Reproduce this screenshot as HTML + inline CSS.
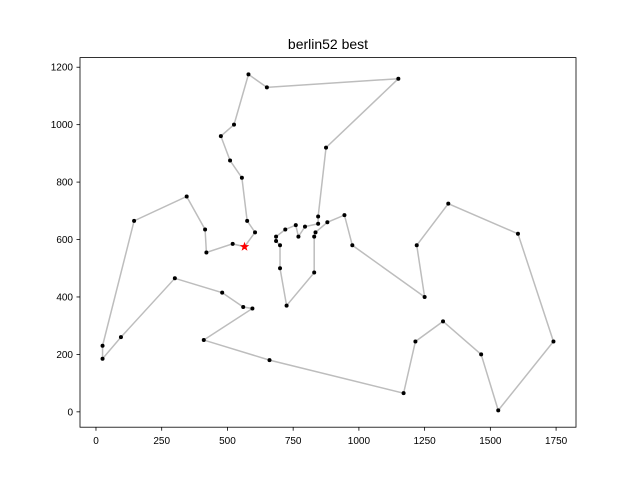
<!DOCTYPE html>
<html><head><meta charset="utf-8"><style>
body{margin:0;background:#fff;}
svg{font-family:"Liberation Sans","DejaVu Sans",sans-serif;}
</style></head><body>
<svg id="chart" width="640" height="480" viewBox="0 0 640 480">
<rect width="640" height="480" fill="#fff"/>
<text x="328" y="49" text-anchor="middle" font-size="14">berlin52 best</text>
<g id="plot"></g>
<rect x="80" y="57.6" width="496" height="369.6" fill="none" stroke="#000" stroke-width="0.8"/>
</svg>
<script>
const cityX=[565,25,345,945,845,880,25,525,580,650,1605,1220,1465,1530,845,725,145,415,510,560,300,520,480,835,975,1215,1320,1250,660,410,420,575,1150,700,685,685,770,795,720,760,475,95,875,700,555,830,1170,830,605,595,1340,1740];
const cityY=[575,185,750,685,655,660,230,1000,1175,1130,620,580,200,5,680,370,665,635,875,365,465,585,415,625,580,245,315,400,180,250,555,665,1160,580,595,610,610,645,635,650,960,260,920,500,815,485,65,610,625,360,725,245];
const tour=[1,49,32,45,19,41,8,9,10,33,43,15,5,38,37,40,39,36,35,34,44,16,46,48,24,6,4,25,28,12,51,11,52,14,13,27,26,47,29,30,50,20,23,21,42,2,7,17,3,18,31,22,1];
const xTicks=[0,250,500,750,1000,1250,1500,1750];
const yTicks=[0,200,400,600,800,1000,1200];
const xMin=-60.75,xMax=1825.75,yMin=-53.5,yMax=1233.5;
const L=80,R=576,T=57.6,B=427.2;
const sx=v=>L+(v-xMin)/(xMax-xMin)*(R-L);
const sy=v=>B-(v-yMin)/(yMax-yMin)*(B-T);
const NS='http://www.w3.org/2000/svg';
const g=document.getElementById('plot');
function mk(t,a){const e=document.createElementNS(NS,t);for(const k in a)e.setAttribute(k,a[k]);g.appendChild(e);return e;}
const pts=tour.map(i=>sx(cityX[i-1]).toFixed(2)+','+sy(cityY[i-1]).toFixed(2)).join(' ');
const pl=mk('polyline',{points:pts,fill:'none',stroke:'#bdbdbd','stroke-width':1.5});


cityX.forEach((x,i)=>{
 const c=mk('circle',{cx:sx(x),cy:sy(cityY[i]),r:2,fill:'#000'});
 
 
});
// start star
(function(){
 const cx=sx(cityX[0]),cy=sy(cityY[0]),ro=5,ri=2;let p=[];
 for(let k=0;k<10;k++){const a=-Math.PI/2+k*Math.PI/5,r=k%2?ri:ro;p.push((cx+r*Math.cos(a)).toFixed(2)+','+(cy+r*Math.sin(a)).toFixed(2));}
 const s=mk('polygon',{points:p.join(' '),fill:'#ff0000'});
 
 
})();
xTicks.forEach(v=>{
 const x=sx(v);
 const t=mk('line',{x1:x,x2:x,y1:B,y2:B+3.5,stroke:'#000','stroke-width':0.8});
 
 
 const l=mk('text',{x:x,y:B+17,'text-anchor':'middle','font-size':10});
 l.textContent=v;
 
 
});
yTicks.forEach(v=>{
 const y=sy(v);
 const t=mk('line',{x1:L-3.5,x2:L,y1:y,y2:y,stroke:'#000','stroke-width':0.8});
 
 
 const l=mk('text',{x:L-7,y:y+3.5,'text-anchor':'end','font-size':10});
 l.textContent=v;
 
 
});
</script>
</body></html>
